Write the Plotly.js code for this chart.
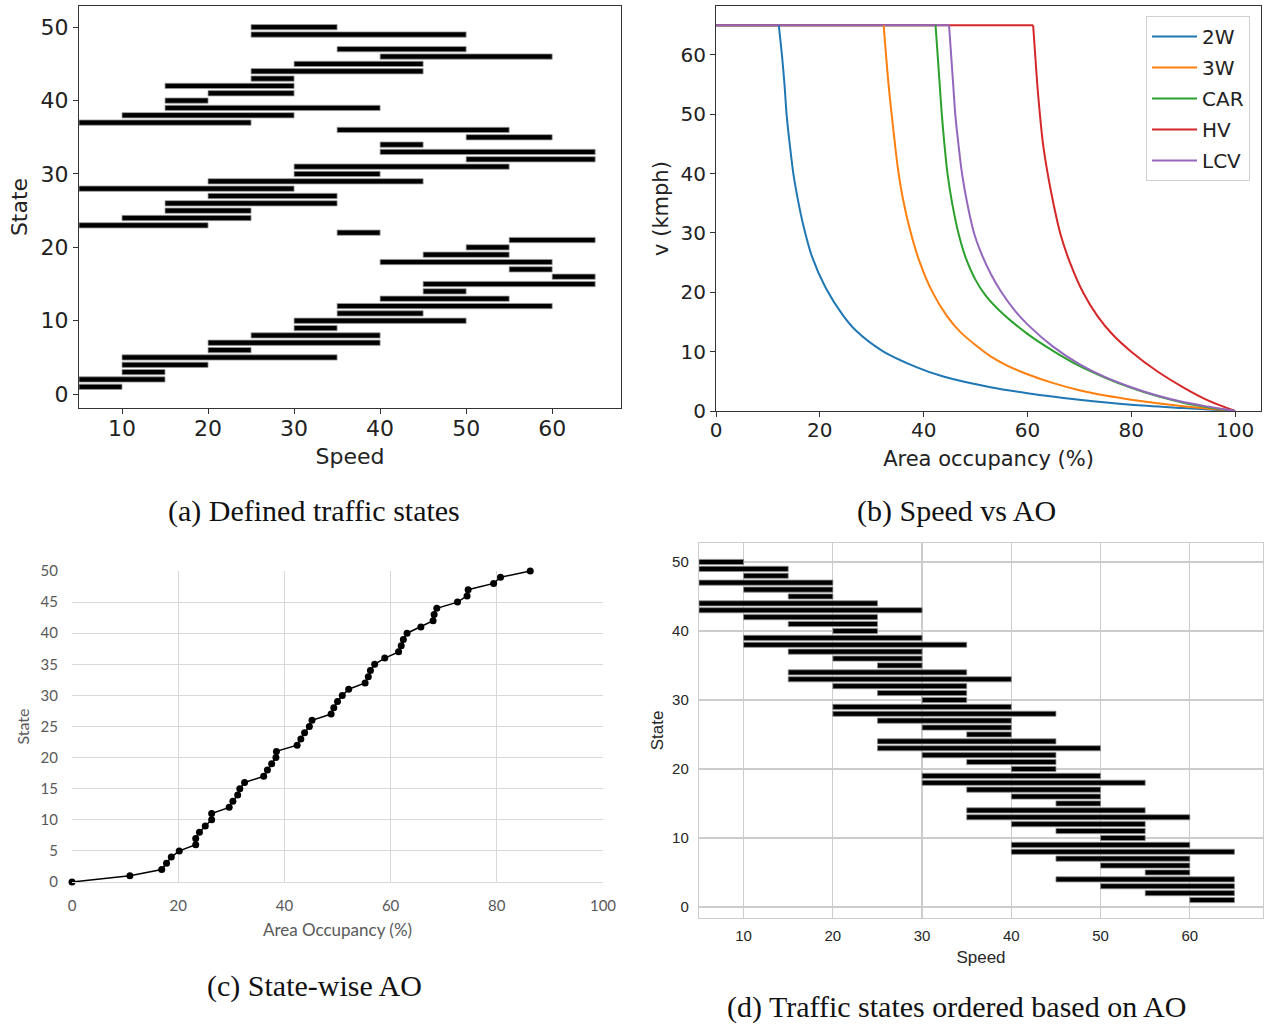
<!DOCTYPE html>
<html><head><meta charset="utf-8">
<script src="https://cdn.plot.ly/plotly-3.0.1.min.js"></script>
<style>html,body{margin:0;padding:0;background:#fff}#chart{width:1264px;height:1025px}</style>
</head><body><div id="chart"></div>
<script>
// ---------- (a) Defined traffic states ----------
const statesA = [1,2,3,4,5,6,7,8,9,10,11,12,13,14,15,16,17,18,19,20,21,22,23,24,25,26,27,28,29,30,31,32,33,34,35,36,37,38,39,40,41,42,43,44,45,46,47,49,50];
const startA  = [5,5,10,10,10,20,20,25,30,30,35,35,40,45,45,60,55,40,45,50,55,35,5,10,15,15,20,5,20,30,30,50,40,40,50,35,5,10,15,15,20,15,25,25,30,40,35,25,25];
const endA    = [10,15,15,20,35,25,40,40,35,50,45,60,55,50,65,65,60,60,55,55,65,40,20,25,25,35,35,30,45,40,55,65,65,45,60,55,25,30,40,20,30,30,30,45,45,60,50,50,35];

// ---------- (b) Speed vs AO ----------
const seriesNames = ['2W','3W','CAR','HV','LCV'];
const seriesColors = ['#1f77b4','#ff7f0e','#2ca02c','#d62728','#9467bd'];
const freeSpeed = 65;
const ao2W  = [12.1,12.7,13.2,13.6,14.2,14.9,15.8,16.9,18.5,21.1,24.4,26.9,32.1,38.6,43.8,52.9,60,70,80,90,100];
const v2W   = [65,60,55,50,45,40,35.5,31,26,20.8,16.2,13.6,10.1,7.4,5.8,4.0,3.0,1.9,1.05,0.5,0];
const ao3W  = [32.3,32.8,33.3,33.9,34.5,35.1,36.0,37.3,39.2,41.6,44.5,47.1,50.3,52.9,56,60,65,70,75,80,85,90,95,100];
const v3W   = [65,59.5,54.5,49.5,44.8,40.5,35.8,30.8,25.2,20.2,16,13.3,10.9,9.2,7.7,6.2,4.7,3.5,2.6,1.9,1.3,0.8,0.4,0];
const aoCAR = [42.3,42.7,43.1,43.5,44.0,44.6,45.5,46.7,48,50,52,55,60,65,70,75,80,85,90,95,100];
const vCAR  = [65,60,55,50,45,40,35,30,26.1,22.1,19.4,16.6,13.0,10.1,7.6,5.6,3.9,2.5,1.4,0.6,0];
const aoHV  = [61.1,61.5,61.9,62.4,63.0,63.9,65.0,66.3,68.2,70.7,73.5,76.5,80,85,90,95,100];
const vHV   = [65,60,55,50,45,40,35,30,25,20,16,12.8,10,6.7,4.0,1.7,0];
const aoLCV = [44.9,45.3,45.7,46.1,46.7,47.4,48.4,49.7,51,53,55,57.5,60,65,70,75,80,85,90,95,100];
const vLCV  = [65,60,55,50,45,40,35,30,26.8,23.0,20.0,17.0,14.6,10.8,7.9,5.7,4.0,2.6,1.5,0.7,0];

// ---------- (c) State-wise AO ----------
const statesC = [0,1,2,3,4,5,6,7,8,9,10,11,12,13,14,15,16,17,18,19,20,21,22,23,24,25,26,27,28,29,30,31,32,33,34,35,36,37,38,39,40,41,42,43,44,45,46,47,48,49,50];
const aoC = [0,10.9,16.9,17.8,18.7,20.2,23.3,23.3,24.0,25.1,26.3,26.3,29.6,30.3,31.2,31.6,32.5,36.1,36.8,37.6,38.4,38.5,42.4,43.1,43.8,44.7,45.2,48.8,49.3,50.0,50.9,52.1,55.2,55.8,56.2,57.0,58.9,61.5,62.0,62.4,63.1,65.7,68.0,68.2,68.7,72.6,74.4,74.6,79.4,80.7,86.3];

// ---------- (d) Traffic states ordered based on AO ----------
const statesD = [1,2,3,4,5,6,7,8,9,10,11,12,13,14,15,16,17,18,19,20,21,22,23,24,25,26,27,28,29,30,31,32,33,34,35,36,37,38,39,40,41,42,43,44,45,46,47,48,49,50];
const startD  = [60,55,50,45,55,50,45,40,40,50,45,40,35,35,45,40,35,30,30,40,35,30,25,25,35,30,25,20,20,30,25,20,15,15,25,20,15,10,10,20,15,10,5,5,15,10,5,10,5,5];
const endD    = [65,65,65,65,60,60,60,65,60,55,55,55,60,55,50,50,50,55,50,45,45,45,50,45,40,40,40,45,40,35,35,35,40,35,30,30,30,35,30,25,25,25,30,25,20,20,20,15,15,10];

// ---------- helpers ----------
const W = 1264, H = 1025;
const px = x => x / W;
const py = y => 1 - y / H;
const MPL = 'DejaVu Sans', XL = 'Lato', SNS = 'Liberation Sans', CAP = 'Liberation Serif';

const traces = [];
// (a) bars
traces.push({
  type:'bar', orientation:'h', xaxis:'x', yaxis:'y',
  y: statesA, base: startA, x: endA.map((e,i)=>e-startA[i]),
  width: 0.72, marker:{color:'#000', line:{color:'#9a9a9a', width:0.8}},
  showlegend:false, hoverinfo:'skip'
});
// (b) flat segments then decaying parts
const aoList = [ao2W, ao3W, aoCAR, aoHV, aoLCV];
const vList  = [v2W, v3W, vCAR, vHV, vLCV];
seriesNames.forEach((n,i)=>{
  traces.push({type:'scatter', mode:'lines', xaxis:'x2', yaxis:'y2',
    x:[0, aoList[i][0]], y:[freeSpeed, freeSpeed], legendgroup:n, showlegend:false,
    line:{color:seriesColors[i], width:2}, hoverinfo:'skip'});
});
seriesNames.forEach((n,i)=>{
  traces.push({type:'scatter', mode:'lines', xaxis:'x2', yaxis:'y2', name:n, legendgroup:n,
    x:aoList[i], y:vList[i], line:{color:seriesColors[i], width:2, shape:'spline', smoothing:0.8}});
});
// (c)
traces.push({type:'scatter', mode:'lines+markers', xaxis:'x3', yaxis:'y3',
  x: aoC, y: statesC, line:{color:'#000', width:1.5}, marker:{color:'#000', size:7},
  showlegend:false, cliponaxis:false});
// (d)
traces.push({
  type:'bar', orientation:'h', xaxis:'x4', yaxis:'y4',
  y: statesD, base: startD, x: endD.map((e,i)=>e-startD[i]),
  width: 0.74, marker:{color:'#000', line:{color:'#8a8a8a', width:0.8}},
  showlegend:false, hoverinfo:'skip'
});

const mplAxis = (extra) => Object.assign({
  showline:true, mirror:true, linecolor:'#333', linewidth:1,
  ticks:'outside', ticklen:5, tickwidth:1, tickcolor:'#333',
  showgrid:false, zeroline:false, tickmode:'array'
}, extra);

const layout = {
  width:W, height:H, margin:{l:0,r:0,t:0,b:0},
  paper_bgcolor:'#fff', plot_bgcolor:'#fff',
  barmode:'overlay', showlegend:true,
  xaxis: mplAxis({domain:[px(79),px(621)], anchor:'y', range:[5,68], ticklabelstandoff:-4,
    tickvals:[10,20,30,40,50,60], tickfont:{family:MPL,size:22,color:'#222'},
    title:{text:'Speed', font:{family:MPL,size:22,color:'#222'}, standoff:8}}),
  yaxis: mplAxis({domain:[py(408),py(6)], anchor:'x', range:[-1.89,52.89],
    tickvals:[0,10,20,30,40,50], tickfont:{family:MPL,size:22,color:'#222'},
    title:{text:'State', font:{family:MPL,size:22,color:'#222'}, standoff:6}}),
  xaxis2: mplAxis({domain:[px(716),px(1261)], anchor:'y2', range:[0,105], ticklabelstandoff:-4,
    tickvals:[0,20,40,60,80,100], tickfont:{family:MPL,size:20,color:'#222'},
    title:{text:'Area occupancy (%)', font:{family:MPL,size:21,color:'#222'}, standoff:10}}),
  yaxis2: mplAxis({domain:[py(411),py(6)], anchor:'x2', range:[0,68.25],
    tickvals:[0,10,20,30,40,50,60], tickfont:{family:MPL,size:20,color:'#222'},
    title:{text:'v (kmph)', font:{family:MPL,size:21,color:'#222'}, standoff:6}}),
  xaxis3: {domain:[px(72),px(603)], anchor:'y3', range:[0,100], tickmode:'array',
    tickvals:[0,20,40,60,80,100], showgrid:true, gridcolor:'#d9d9d9', gridwidth:1,
    showline:true, linecolor:'#d9d9d9', linewidth:1, zeroline:false,
    ticks:'outside', ticklen:10, tickcolor:'rgba(0,0,0,0)',
    tickfont:{family:XL,size:15,color:'#595959'},
    title:{text:'Area Occupancy (%)', font:{family:XL,size:17,color:'#595959'}, standoff:11}},
  yaxis3: {domain:[py(882),py(571)], anchor:'x3', range:[0,50], tickmode:'array',
    tickvals:[0,5,10,15,20,25,30,35,40,45,50], showgrid:true, gridcolor:'#d9d9d9', gridwidth:1,
    showline:false, zeroline:false,
    ticks:'outside', ticklen:10, tickcolor:'rgba(0,0,0,0)',
    tickfont:{family:XL,size:15,color:'#595959'},
    title:{text:'State', font:{family:XL,size:16,color:'#595959'}, standoff:6}},
  xaxis4: {domain:[px(699),px(1263)], anchor:'y4', range:[5,68.2], tickmode:'array',
    tickvals:[10,20,30,40,50,60], showgrid:true, gridcolor:'#cccccc', gridwidth:1.2,
    showline:true, mirror:true, linecolor:'#cccccc', linewidth:1.2, zeroline:false,
    ticks:'outside', ticklen:4, tickcolor:'rgba(0,0,0,0)',
    tickfont:{family:SNS,size:15,color:'#262626'},
    title:{text:'Speed', font:{family:SNS,size:17,color:'#262626'}, standoff:7}},
  yaxis4: {domain:[py(918),py(543)], anchor:'x4', range:[-1.6,52.75], tickmode:'array',
    tickvals:[0,10,20,30,40,50], showgrid:true, gridcolor:'#cccccc', gridwidth:1.2,
    showline:true, mirror:true, linecolor:'#cccccc', linewidth:1.2, zeroline:false,
    ticks:'outside', ticklen:6, tickcolor:'rgba(0,0,0,0)',
    tickfont:{family:SNS,size:15,color:'#262626'},
    title:{text:'State', font:{family:SNS,size:17,color:'#262626'}, standoff:4}},
  legend:{x:px(1250), xanchor:'right', y:py(16), yanchor:'top', itemwidth:45,
    bgcolor:'rgba(255,255,255,0.85)', bordercolor:'#d0d0d0', borderwidth:1,
    font:{family:MPL,size:20,color:'#222'}, tracegroupgap:2, traceorder:'grouped'},
  annotations:[
    {text:'(a) Defined traffic states', x:px(314), y:py(511)},
    {text:'(b) Speed vs AO', x:px(956), y:py(511)},
    {text:'(c) State-wise AO', x:px(314), y:py(986)},
    {text:'(d) Traffic states ordered based on AO', x:px(956), y:py(1007)}
  ].map(a=>Object.assign({xref:'paper', yref:'paper', xanchor:'center', yanchor:'middle',
    showarrow:false, font:{family:CAP, size:30, color:'#111'}}, a))
};

Plotly.newPlot('chart', traces, layout, {displayModeBar:false, staticPlot:true});
</script>
</body></html>
